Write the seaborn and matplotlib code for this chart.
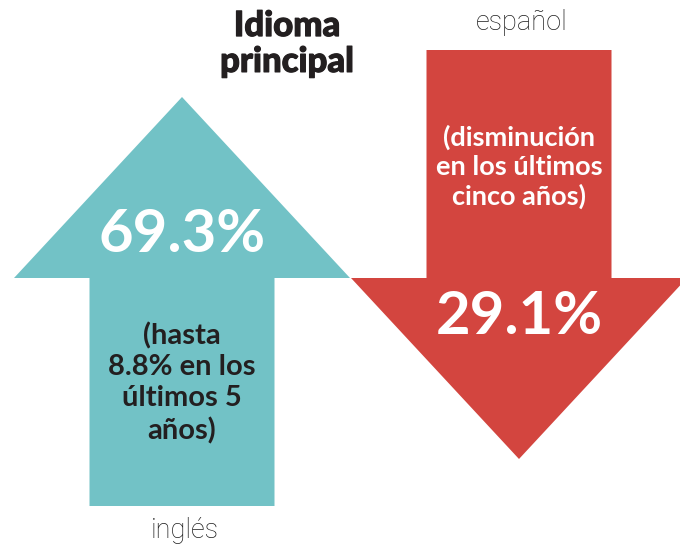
import matplotlib
matplotlib.use("Agg")
import matplotlib.pyplot as plt
import matplotlib.patheffects as pe
import seaborn as sns

# =========================
# DATA
# =========================

languages = ["inglés", "español"]
shares = [69.3, 29.1]
directions = ["up", "down"]
notes = [
    "(hasta\n8.8% en los\núltimos 5\naños)",
    "(disminución\nen los últimos\ncinco años)",
]
title = "Idioma\nprincipal"

colors = ["#72C2C6", "#D3453F"]
note_colors = ["#231F20", "white"]
note_sizes = [21, 19.5]

# =========================
# STYLE
# =========================

sns.set_theme(style="white")
plt.rcParams["font.family"] = ["Lato", "DejaVu Sans"]

fig = plt.figure(figsize=(6.8, 5.54), dpi=100)
ax = fig.add_axes([0, 0, 1, 1])
ax.set_xlim(0, 680)
ax.set_ylim(554, 0)
ax.axis("off")
sns.despine(ax=ax, left=True, bottom=True)

# arrow geometry (pixel units)
centers = [182, 519]
shaft_half = 92.5
head_half = 168
head_base = 278
head_len = 181
shaft_len = 228


def arrow_outline(cx, direction):
    s = -1 if direction == "up" else 1
    tip = head_base + s * head_len
    end = head_base - s * shaft_len
    xs = [cx - shaft_half, cx - shaft_half, cx - head_half, cx,
          cx + head_half, cx + shaft_half, cx + shaft_half]
    ys = [end, head_base, head_base, tip, head_base, head_base, end]
    return xs, ys


for i in range(len(languages)):
    cx = centers[i]
    xs, ys = arrow_outline(cx, directions[i])
    ax.fill(xs, ys, color=colors[i], lw=0)

    if directions[i] == "up":
        value_y = 235
        note_y = 383
        label_y = 530
    else:
        value_y = 317
        note_y = 167
        label_y = 22

    ax.text(cx, value_y, f"{shares[i]:.1f}%", ha="center", va="center",
            color="white", fontsize=43, fontweight="bold")
    ax.text(cx, note_y, notes[i], ha="center", va="center",
            color=note_colors[i], fontsize=note_sizes[i], fontweight="bold",
            linespacing=1.25)
    ax.text(cx + 3, label_y, languages[i], ha="center", va="center",
            color="#1e1e1e", fontsize=19.5, fontweight="light",
            family=["Roboto", "DejaVu Sans"])

ax.text(287, 44, title, ha="center", va="center", color="#231F20",
        fontsize=25, fontweight="black", linespacing=1.15,
        path_effects=[pe.withStroke(linewidth=0.8, foreground="#231F20")])

fig.savefig("out.png", dpi=100)
